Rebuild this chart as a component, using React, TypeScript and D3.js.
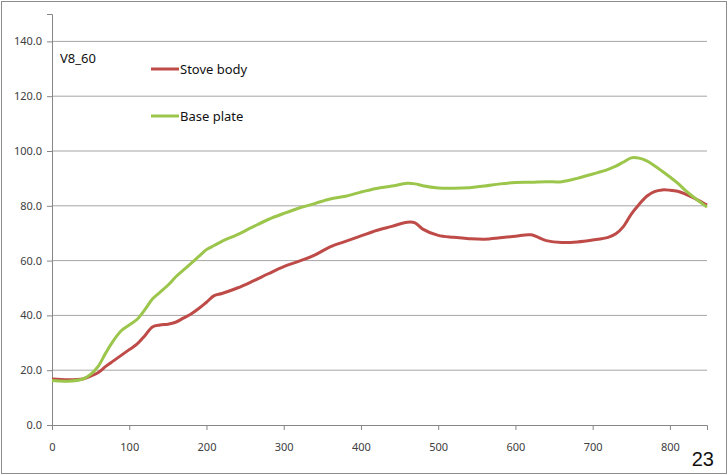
import { useEffect, useRef } from "react";
import * as d3 from "d3";

// minutes (x) shared by both series
const times = [
  0, 20, 40, 50, 60, 70, 80, 90, 100, 110, 120, 130, 140, 150, 160, 170, 180, 190, 200, 210,
  220, 240, 260, 280, 300, 320, 340, 360, 380, 400, 420, 440, 460, 470, 480, 500, 520, 540,
  560, 580, 600, 620, 640, 660, 680, 700, 720, 730, 740, 750, 760, 770, 780, 790, 800, 810,
  820, 830, 840, 848,
];

const stoveBody = [
  16.8, 16.5, 16.8, 17.8, 19.2, 21.5, 23.5, 25.5, 27.5, 29.5, 32.5, 35.8, 36.5, 36.8, 37.5,
  39, 40.5, 42.5, 44.8, 47.2, 48, 50, 52.5, 55.2, 57.8, 59.8, 62, 65, 67, 69, 71, 72.5, 74,
  73.8, 71.5, 69.2, 68.5, 68, 67.8, 68.3, 68.9, 69.4, 67.3, 66.6, 66.8, 67.5, 68.5, 69.8,
  72.5, 77, 80.5, 83.5, 85.2, 85.8, 85.7, 85.3, 84.3, 83, 81.5, 80.3,
];

const basePlate = [
  16.2, 16.0, 16.8, 18.5, 21.5, 26.5, 31, 34.5, 36.5, 38.5, 42, 46, 48.5, 51, 54, 56.5, 59,
  61.5, 64, 65.5, 67, 69.5, 72.3, 75, 77.2, 79.2, 80.8, 82.5, 83.5, 85, 86.3, 87.2, 88.2, 88,
  87.3, 86.5, 86.4, 86.6, 87.2, 88, 88.5, 88.6, 88.8, 88.8, 90, 91.6, 93.3, 94.5, 96, 97.5,
  97.4, 96.4, 94.6, 92.6, 90.5, 88.3, 85.6, 83.3, 81.2, 79.5,
];

const xTicks = [0, 100, 200, 300, 400, 500, 600, 700, 800];
const yTicks = [0, 20, 40, 60, 80, 100, 120, 140];

const series = [
  { name: "Stove body", values: stoveBody, color: "#be4b48" },
  { name: "Base plate", values: basePlate, color: "#9bc64b" },
];

const W = 728;
const H = 475;
const margin = { top: 14, right: 20, bottom: 50, left: 52 };

export default function App() {
  const svgRef = useRef<SVGSVGElement | null>(null);

  useEffect(() => {
    const svg = d3.select(svgRef.current);
    svg.selectAll("*").remove();

    const x = d3.scaleLinear().domain([0, 848]).range([margin.left, W - margin.right - 1]);
    const y = d3.scaleLinear().domain([0, 150]).range([H - margin.bottom, margin.top]);

    // outer frame
    svg
      .append("rect")
      .attr("x", 1.5)
      .attr("y", 1.5)
      .attr("width", W - 3)
      .attr("height", H - 3)
      .attr("fill", "white")
      .attr("stroke", "#8c8c8c");

    // gridlines
    svg
      .append("g")
      .selectAll("line")
      .data(yTicks.slice(1))
      .join("line")
      .attr("x1", x(0))
      .attr("x2", x(848))
      .attr("y1", (d) => y(d))
      .attr("y2", (d) => y(d))
      .attr("stroke", "#a6a6a6")
      .attr("stroke-width", 1);

    const font = "'Noto Sans', 'Open Sans', sans-serif";

    const yAxis = svg
      .append("g")
      .attr("transform", `translate(${x(0)},0)`)
      .call(d3.axisLeft(y).tickValues(yTicks).tickSize(5).tickFormat(d3.format(".1f")));
    const xAxis = svg
      .append("g")
      .attr("transform", `translate(0,${y(0)})`)
      .call(d3.axisBottom(x).tickValues(xTicks).tickSize(5).tickPadding(13));

    for (const ax of [xAxis, yAxis]) {
      ax.select(".domain").attr("stroke", "#868686");
      ax.selectAll(".tick line").attr("stroke", "#868686");
      ax.selectAll("text")
        .attr("fill", "#404040")
        .style("font-family", font)
        .style("font-size", "11px");
    }
    yAxis.selectAll("text").attr("dx", "-2");

    const line = d3
      .line<number>()
      .x((_, i) => x(times[i]))
      .y((d) => y(d))
      .curve(d3.curveCatmullRom);

    svg
      .append("g")
      .selectAll("path")
      .data(series)
      .join("path")
      .attr("d", (s) => line(s.values))
      .attr("fill", "none")
      .attr("stroke", (s) => s.color)
      .attr("stroke-width", 3)
      .attr("stroke-linejoin", "round");

    // title text inside plot
    svg
      .append("text")
      .attr("x", 60)
      .attr("y", 63)
      .text("V8_60")
      .style("font-family", font)
      .style("font-size", "13px")
      .attr("fill", "#111");

    // legend
    const legend = svg
      .append("g")
      .selectAll("g")
      .data(series)
      .join("g")
      .attr("transform", (_, i) => `translate(151,${69 + i * 47})`);
    legend
      .append("line")
      .attr("x1", 0)
      .attr("x2", 28)
      .attr("stroke", (s) => s.color)
      .attr("stroke-width", 3);
    legend
      .append("text")
      .attr("x", 29)
      .attr("dy", "0.35em")
      .text((s) => s.name)
      .style("font-family", font)
      .style("font-size", "13px")
      .attr("fill", "#111");

    // slide number
    svg
      .append("text")
      .attr("x", 714)
      .attr("y", 466)
      .attr("text-anchor", "end")
      .text("23")
      .style("font-family", "'Liberation Sans', Arial, sans-serif")
      .style("font-size", "20px")
      .attr("fill", "#111");
  }, []);

  return (
    <div style={{ position: "fixed", left: 0, top: 0 }}>
      <svg ref={svgRef} width={W} height={H} style={{ display: "block" }} />
    </div>
  );
}
